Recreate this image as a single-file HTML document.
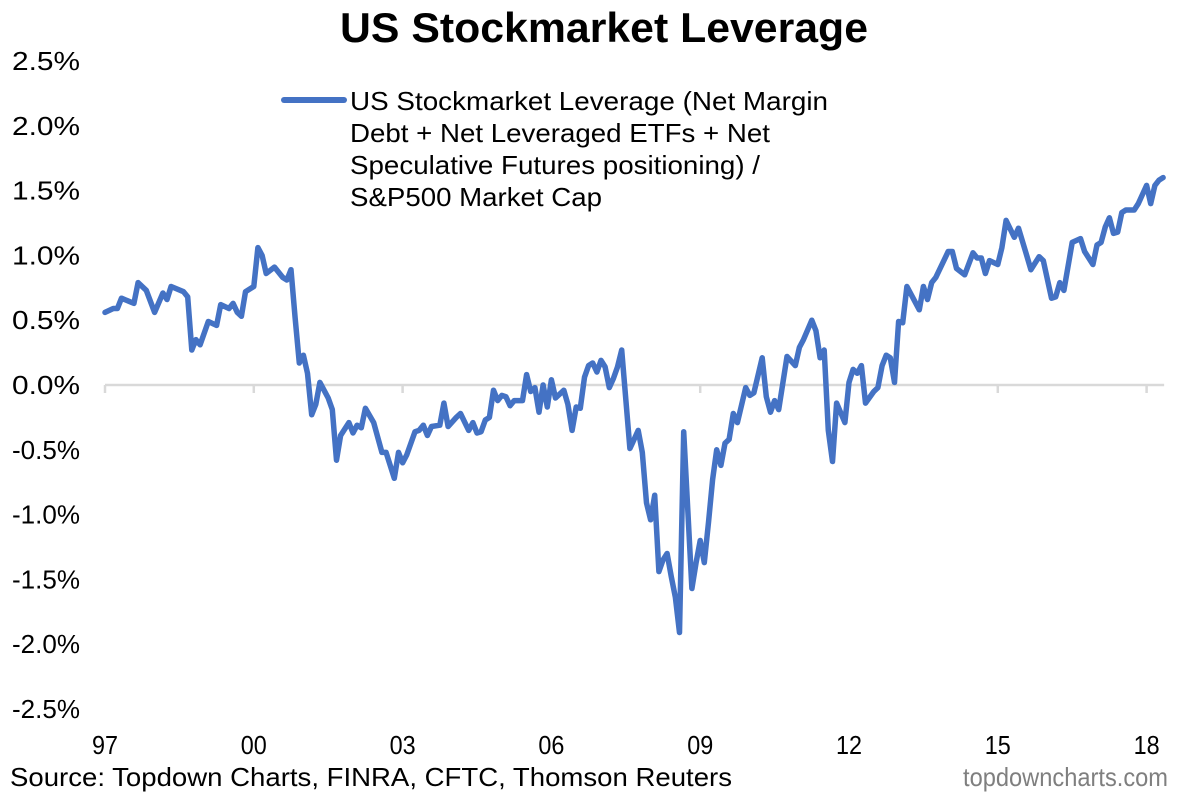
<!DOCTYPE html>
<html><head><meta charset="utf-8"><style>
html,body{margin:0;padding:0;background:#fff;}
svg{display:block;font-family:"Liberation Sans",Arial,sans-serif;}
</style></head><body>
<svg id="chart" width="1199" height="798" viewBox="0 0 1199 798">
<text x="604" y="42" text-anchor="middle" font-size="42" font-weight="bold" textLength="528" lengthAdjust="spacingAndGlyphs">US Stockmarket Leverage</text>
<g id="yaxis"></g>
<g id="xaxis"></g>
<g id="plot"></g>
<g>
<line x1="284" y1="100" x2="344" y2="100" stroke="#4472C4" stroke-width="6" stroke-linecap="round"/>
<g font-size="26" fill="#000">
<text x="350" y="110" textLength="478" lengthAdjust="spacingAndGlyphs">US Stockmarket Leverage (Net Margin</text>
<text x="350" y="142" textLength="420" lengthAdjust="spacingAndGlyphs">Debt + Net Leveraged ETFs + Net</text>
<text x="350" y="174" textLength="410" lengthAdjust="spacingAndGlyphs">Speculative Futures positioning) /</text>
<text x="350" y="206" textLength="252" lengthAdjust="spacingAndGlyphs">S&amp;P500 Market Cap</text>
</g></g>
<text x="10" y="786" font-size="26" textLength="722" lengthAdjust="spacingAndGlyphs">Source: Topdown Charts, FINRA, CFTC, Thomson Reuters</text>
<text x="1168" y="786" font-size="26" fill="#7f7f7f" text-anchor="end" textLength="205" lengthAdjust="spacingAndGlyphs">topdowncharts.com</text>
</svg>
<script>
const months=[0,2,3,4,7,8,10,12,14,15,16,19,20,21,22,23,25,27,28,30,31,32,33,34,36,37,38,39,41,43,44,45,46,47,48,49,50,51,52,54,55,56,57,59,60,61,62,63,65,67,68,70,71,72,73,75,76,77,78,79,81,82,83,85,86,88,89,90,91,92,93,94,95,96,97,98,99,101,102,103,104,105,106,107,108,109,111,112,113,114,115,116,117,118,119,120,121,122,123,124,125,127,128,129,130,131,132,133,134,135,136,137,138,139,140,142,143,144,145,146,147,148,149,150,151,152,153,155,156,157,159,160,161,162,163,165,167,168,169,171,172,173,174,175,176,177,179,180,181,182,183,184,186,187,188,189,190,191,192,193,194,197,198,199,200,201,204,205,206,208,210,211,212,213,214,216,217,218,220,221,223,224,226,227,229,230,231,232,234,236,237,239,240,241,242,243,244,245,246,247,249,250,252,253,254,255,256];
const values=[0.56,0.59,0.59,0.67,0.63,0.79,0.73,0.56,0.71,0.66,0.76,0.72,0.68,0.27,0.35,0.31,0.49,0.46,0.62,0.59,0.63,0.56,0.53,0.72,0.76,1.06,1.00,0.86,0.91,0.83,0.81,0.89,0.52,0.17,0.23,0.09,-0.23,-0.15,0.02,-0.10,-0.19,-0.58,-0.39,-0.29,-0.37,-0.31,-0.33,-0.18,-0.29,-0.52,-0.52,-0.72,-0.52,-0.60,-0.54,-0.36,-0.35,-0.31,-0.39,-0.32,-0.31,-0.14,-0.32,-0.25,-0.22,-0.35,-0.29,-0.37,-0.36,-0.27,-0.25,-0.04,-0.12,-0.08,-0.09,-0.16,-0.12,-0.12,0.08,-0.05,-0.02,-0.21,0.00,-0.17,0.04,-0.10,-0.04,-0.15,-0.35,-0.17,-0.18,0.06,0.15,0.17,0.10,0.19,0.14,-0.02,0.05,0.14,0.27,-0.49,-0.42,-0.35,-0.52,-0.91,-1.04,-0.85,-1.44,-1.35,-1.30,-1.48,-1.64,-1.91,-0.36,-1.57,-1.37,-1.20,-1.37,-1.06,-0.73,-0.50,-0.62,-0.45,-0.42,-0.22,-0.29,-0.02,-0.08,-0.06,0.21,-0.09,-0.21,-0.12,-0.19,0.22,0.15,0.29,0.35,0.50,0.42,0.21,0.27,-0.35,-0.59,-0.14,-0.29,0.02,0.12,0.09,0.15,-0.14,-0.05,-0.02,0.15,0.23,0.21,0.02,0.49,0.48,0.76,0.58,0.76,0.66,0.79,0.83,1.03,1.03,0.90,0.85,1.02,0.98,0.98,0.86,0.96,0.93,1.06,1.27,1.14,1.21,1.00,0.89,0.99,0.96,0.67,0.68,0.79,0.73,1.10,1.13,1.03,0.93,1.08,1.10,1.22,1.29,1.17,1.18,1.33,1.35,1.35,1.40,1.54,1.40,1.54,1.58,1.60];
const yTicks=[2.5,2.0,1.5,1.0,0.5,0.0,-0.5,-1.0,-1.5,-2.0,-2.5];
const xTickLabels=["97","00","03","06","09","12","15","18"];
const xTickMonths=[0,36,72,108,144,180,216,252];

const NS="http://www.w3.org/2000/svg";
const xS=m=>105+m*49.6/12;
const yS=v=>385-v*129.6;
function mk(tag,attrs,parent){const e=document.createElementNS(NS,tag);for(const k in attrs)e.setAttribute(k,attrs[k]);parent.appendChild(e);return e;}
const ya=document.getElementById('yaxis'),xa=document.getElementById('xaxis'),pl=document.getElementById('plot');
yTicks.forEach(t=>{
  const el=mk('text',{x:80,y:yS(t)+9,'text-anchor':'end','font-size':26,textLength:68,lengthAdjust:'spacingAndGlyphs'},ya);
  el.textContent=t.toFixed(1)+'%';
  
  
});
const ax=mk('line',{x1:xS(0),x2:xS(256)+1,y1:yS(0),y2:yS(0),stroke:'#d9d9d9','stroke-width':2.5},xa);


xTickMonths.forEach((m,i)=>{
  const tk=mk('line',{x1:xS(m),x2:xS(m),y1:yS(0),y2:yS(0)+8,stroke:'#d9d9d9','stroke-width':2.5},xa);
  
  
  const el=mk('text',{x:xS(m),y:754,'text-anchor':'middle','font-size':26,textLength:26,lengthAdjust:'spacingAndGlyphs'},xa);
  el.textContent=xTickLabels[i];
  
  
});
const d=months.map((m,i)=>(i?'L':'M')+xS(m).toFixed(1)+' '+yS(values[i]).toFixed(1)).join(' ');
const path=mk('path',{d:d,fill:'none',stroke:'#4472C4','stroke-width':5.5,'stroke-linejoin':'round','stroke-linecap':'round'},pl);


</script>
</body></html>
